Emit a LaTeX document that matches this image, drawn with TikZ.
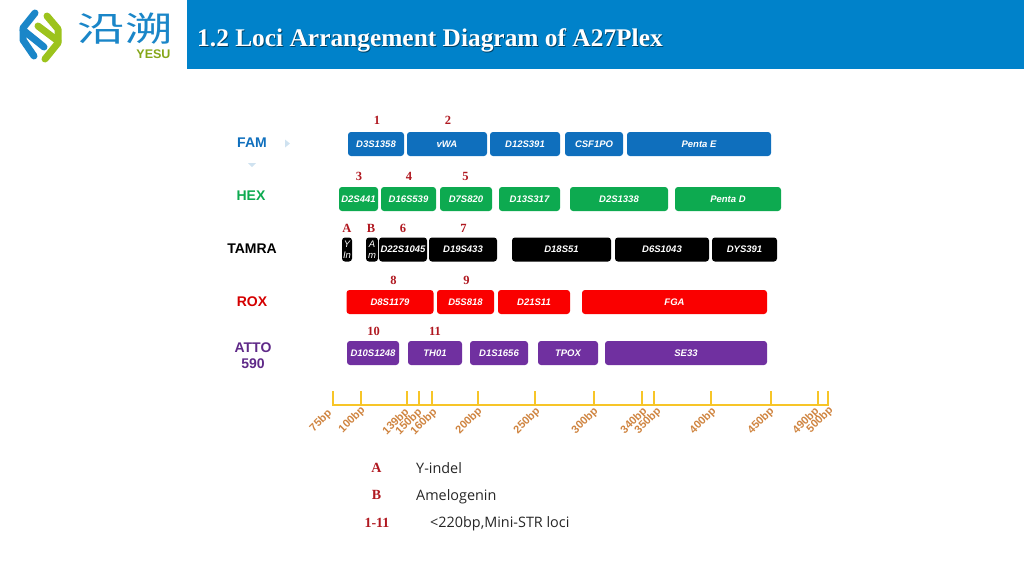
\documentclass[tikz,border=0pt]{standalone}
\usepackage{fontspec}
\setmainfont{Liberation Serif}
\setsansfont{Liberation Sans}
\newfontfamily\legendfont{Open Sans}
\newfontfamily\cjkfont{Noto Sans CJK SC}
\definecolor{headblue}{HTML}{0082CA}
\definecolor{logoblue}{HTML}{1A86C8}
\definecolor{logogreen}{HTML}{9CC31C}
\definecolor{famblue}{HTML}{0F6FBD}
\definecolor{hexgreen}{HTML}{0DAA50}
\definecolor{roxred}{HTML}{FA0000}
\definecolor{attopurple}{HTML}{7030A0}
\definecolor{axisyellow}{HTML}{F7C528}
\definecolor{sizebrown}{HTML}{CF8440}
\definecolor{numred}{HTML}{B01820}
\definecolor{paleblue}{HTML}{CFE2F0}
\tikzset{
  locus/.style={rounded corners=3pt,inner sep=0pt,minimum height=24pt,text=white,
    font=\sffamily\bfseries\itshape\fontsize{9.5}{9.5}\selectfont},
  dye/.style={font=\sffamily\bfseries\fontsize{14}{16}\selectfont,align=center},
  num/.style={text=numred,font=\bfseries\fontsize{12.5}{12.5}\selectfont},
  legendnum/.style={text=numred,font=\bfseries\fontsize{14}{14}\selectfont},
  size/.style={rotate=45,text=sizebrown,font=\sffamily\bfseries\fontsize{11}{11}\selectfont},
  note/.style={anchor=west,inner sep=0pt,text=black!85,font=\legendfont\fontsize{14.4}{15}\selectfont},
  pale/.style={fill=paleblue,draw=none},
}
\begin{document}
\begin{tikzpicture}[x=1pt,y=-1pt]
\useasboundingbox (0,0) rectangle (1024,576);
% header
\fill[headblue] (187,0) rectangle (1024,69);
\node[anchor=west,inner sep=0pt,text=headblue!50!black,font=\bfseries\fontsize{25.4}{25.4}\selectfont] (titleback) at (197.8,41.3) {1.2 Loci Arrangement Diagram of A27Plex};
\node[anchor=west,inner sep=0pt,text=white,font=\bfseries\fontsize{25.4}{25.4}\selectfont] (title) at (197,40.5) {1.2 Loci Arrangement Diagram of A27Plex};
% logo
\draw[logoblue,line width=7pt,line cap=round,line join=round] (35,13)--(23,28)--(23,40)--(34,56);
\draw[logoblue,line width=7pt,line cap=round] (23,30)--(44,47);
\draw[logogreen,line width=7pt,line cap=round,line join=round] (47,16)--(58,29)--(58,43)--(45,59);
\draw[logogreen,line width=7pt,line cap=round] (38,26)--(58,41);
\node[text=logoblue,transform shape,xscale=1.4,font=\cjkfont\fontsize{34}{34}\selectfont] (logoname) at (125,29) {沿溯};
\node[text=logogreen!85!black,font=\sffamily\bfseries\fontsize{12.5}{12.5}\selectfont] (logoyesu) at (153.5,54.5) {YESU};
% FAM
\node[dye,text=famblue] (fam) at (252,143) {FAM};
\fill[pale] (285,139.5)--(290,143.5)--(285,147.5)--cycle;
\fill[pale] (248,163)--(256,163)--(252,167)--cycle;
\node[locus,fill=famblue,minimum width=56pt] (d3) at (376,144) {D3S1358};
\node[locus,fill=famblue,minimum width=80pt] (vwa) at (447,144) {vWA};
\node[locus,fill=famblue,minimum width=70pt] (d12) at (525,144) {D12S391};
\node[locus,fill=famblue,minimum width=58pt] (csf) at (594,144) {CSF1PO};
\node[locus,fill=famblue,minimum width=144pt] (pe) at (699,144) {Penta E};
\node[num] (n1) at (377,120.5) {1};
\node[num] (n2) at (448,120.5) {2};
% HEX
\node[dye,text=hexgreen] (hex) at (251,196) {HEX};
\node[locus,fill=hexgreen,minimum width=39pt] (d2) at (358.5,199) {D2S441};
\node[locus,fill=hexgreen,minimum width=55pt] (d16) at (408.5,199) {D16S539};
\node[locus,fill=hexgreen,minimum width=52pt] (d7) at (466,199) {D7S820};
\node[locus,fill=hexgreen,minimum width=61pt] (d13) at (529.5,199) {D13S317};
\node[locus,fill=hexgreen,minimum width=98pt] (d2s) at (619,199) {D2S1338};
\node[locus,fill=hexgreen,minimum width=106pt] (pd) at (728,199) {Penta D};
\node[num] (n3) at (359,176) {3};
\node[num] (n4) at (409,176) {4};
\node[num] (n5) at (465.5,176) {5};
% TAMRA
\node[dye,text=black] (tamra) at (252,249) {TAMRA};
\node[locus,fill=black,minimum width=10pt,align=center,font=\sffamily\itshape\fontsize{9.5}{11.5}\selectfont] (yin) at (347,249.5) {Y\\In};
\node[locus,fill=black,minimum width=12pt,align=center,font=\sffamily\itshape\fontsize{9.5}{11.5}\selectfont] (am) at (372,249.5) {A\\m};
\node[locus,fill=black,minimum width=48pt] (d22) at (403,249.5) {D22S1045};
\node[locus,fill=black,minimum width=68pt] (d19) at (463,249.5) {D19S433};
\node[locus,fill=black,minimum width=99pt] (d18) at (561.5,249.5) {D18S51};
\node[locus,fill=black,minimum width=94pt] (d6) at (662,249.5) {D6S1043};
\node[locus,fill=black,minimum width=65pt] (dys) at (744.5,249.5) {DYS391};
\node[num] (na) at (347,228) {A};
\node[num] (nb) at (371,228) {B};
\node[num] (n6) at (403,228) {6};
\node[num] (n7) at (463.5,228) {7};
% ROX
\node[dye,text=roxred!85!black] (rox) at (252,301.5) {ROX};
\node[locus,fill=roxred,minimum width=87pt] (d8) at (390,302) {D8S1179};
\node[locus,fill=roxred,minimum width=57pt] (d5) at (465.5,302) {D5S818};
\node[locus,fill=roxred,minimum width=72pt] (d21) at (534,302) {D21S11};
\node[locus,fill=roxred,minimum width=185pt] (fga) at (674.5,302) {FGA};
\node[num] (n8) at (393.5,280) {8};
\node[num] (n9) at (466.5,280) {9};
% ATTO
\node[dye,text=attopurple!85!black] (atto) at (253,356) {ATTO\\590};
\node[locus,fill=attopurple,minimum width=52pt] (d10) at (373,353) {D10S1248};
\node[locus,fill=attopurple,minimum width=54pt] (th) at (435,353) {TH01};
\node[locus,fill=attopurple,minimum width=58pt] (d1) at (499,353) {D1S1656};
\node[locus,fill=attopurple,minimum width=60pt] (tpox) at (568,353) {TPOX};
\node[locus,fill=attopurple,minimum width=162pt] (se) at (686,353) {SE33};
\node[num] (n10) at (373.5,331) {10};
\node[num] (n11) at (435,331) {11};
% size axis
\draw[axisyellow,line width=1.3pt] (333,391)--(333,405)--(828,405)--(828,391);
\draw[axisyellow,line width=1.3pt] (361,391)--(361,405);
\draw[axisyellow,line width=1.3pt] (407,391)--(407,405);
\draw[axisyellow,line width=1.3pt] (419,391)--(419,405);
\draw[axisyellow,line width=1.3pt] (432,391)--(432,405);
\draw[axisyellow,line width=1.3pt] (478,391)--(478,405);
\draw[axisyellow,line width=1.3pt] (535,391)--(535,405);
\draw[axisyellow,line width=1.3pt] (594,391)--(594,405);
\draw[axisyellow,line width=1.3pt] (642,391)--(642,405);
\draw[axisyellow,line width=1.3pt] (654,391)--(654,405);
\draw[axisyellow,line width=1.3pt] (711,391)--(711,405);
\draw[axisyellow,line width=1.3pt] (771,391)--(771,405);
\draw[axisyellow,line width=1.3pt] (818,391)--(818,405);
\node[size] (s75) at (321,421) {75bp};
\node[size] (s100) at (352,420) {100bp};
\node[size] (s139) at (396,422) {139bp};
\node[size] (s150) at (409,422) {150bp};
\node[size] (s160) at (424,422) {160bp};
\node[size] (s200) at (469,421) {200bp};
\node[size] (s250) at (527,421) {250bp};
\node[size] (s300) at (585,421) {300bp};
\node[size] (s340) at (634,421) {340bp};
\node[size] (s350) at (648,421) {350bp};
\node[size] (s400) at (703,421) {400bp};
\node[size] (s450) at (761,421) {450bp};
\node[size] (s490) at (806,421) {490bp};
\node[size] (s500) at (820,420) {500bp};
% legend
\node[legendnum] (la) at (376.5,468) {A};
\node[legendnum] (lb) at (376.5,495) {B};
\node[legendnum] (lr) at (377,523) {1-11};
\node[note] (ta) at (416,468) {Y-indel};
\node[note] (tb) at (416,496.5) {Amelogenin};
\node[note] (tr) at (430,523.5) {<220bp,Mini-STR loci};
\end{tikzpicture}
\end{document}
